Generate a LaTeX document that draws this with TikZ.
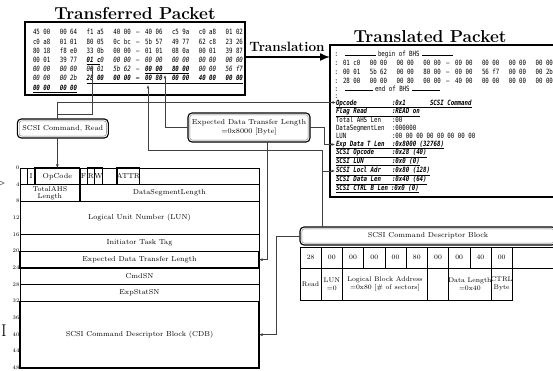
\documentclass[tikz,border=0pt]{standalone}
\usepackage{fontspec}
\newfontfamily\hexfont[FakeStretch=0.8]{DejaVu Sans Mono}
\usetikzlibrary{arrows.meta}
\newcommand\hn{\upshape\mdseries}
\newcommand\hi{\itshape\mdseries}
\newcommand\hb{\itshape\bfseries}
\newcommand\hexrow[4]{%
  \foreach \grs/\grt [count=\gi from 0] in {#4} {%
    \pgfmathsetmacro\gx{#2+26.8*\gi+(\gi>3 ? 5 : 0)}%
    \node[hex] (#1-\gi) at (\gx,#3) {\grs\grt};%
  }%
}
\newcommand\bcell[7]{%
  \node[cellbox,#6,minimum width={(#4)-(#2)},minimum height={(#5)-(#3)}] (#1) at ({((#2)+(#4))/2},{((#3)+(#5))/2}) {#7};%
}
\newcommand\dframe[1]{%
  \draw[line width=0.4pt,draw=black!55,rounded corners=2.5pt] ([xshift=1.9pt,yshift=-1.9pt]#1.north west) rectangle ([xshift=-1.9pt,yshift=1.9pt]#1.south east);%
}
\newcommand\tfield[5]{%
  \node[hex] (f-#1) at (336,#2) {#5#3};%
  \node[hex] (f-#1v) at (392,#2) {#5#4};%
}
\begin{document}
\begin{tikzpicture}[x=1pt,y=-1pt,
  hex/.style={font=\hexfont\fontsize{7.2}{8}\selectfont,inner sep=0pt,outer sep=0pt,anchor=west,text height=5.3pt,text depth=1.4pt},
  cellbox/.style={draw,line width=0.5pt,inner sep=0pt,outer sep=0pt,align=center,font=\fontsize{7.2}{7.6}\selectfont},
  thk/.style={line width=1.2pt},
  med/.style={line width=0.9pt},
  rbox/.style={draw,line width=1.1pt,rounded corners=4pt,inner sep=0pt,outer sep=0pt,align=center,font=\fontsize{7.2}{8.8}\selectfont},
  pkt/.style={draw,line width=1.7pt,inner sep=0pt,outer sep=0pt},
  conn/.style={draw=black!75,line width=0.5pt},
  toarr/.style={-{Latex[length=3.5pt,width=2.8pt]}},
  uline/.style={line width=0.55pt},
  num/.style={font=\fontsize{5.5}{6}\selectfont,inner sep=0pt,anchor=east},
  ttitle/.style={font=\fontsize{17.3}{20}\selectfont\bfseries,inner sep=0pt}
]
\useasboundingbox (0,0) rectangle (553,371);
\clip (0,0) rectangle (553,371);

% titles
\node[ttitle] (ttp) at (135,14) {Transferred Packet};
\node[ttitle] (ttl) at (430,36.5) {Translated Packet};

% packet boxes
\node[pkt,minimum width=220,minimum height=73] (tp) at (135,58.5) {};
\node[pkt,minimum width=240,minimum height=152] (tl) at (450,121) {};

% transferred packet hex
\hexrow{p1}{33}{33}{\hn/45 00,\hn/00 64,\hn/f1 a5,\hn/40 00,\hn/40 06,\hn/c5 9a,\hn/c0 a8,\hn/01 02}
\hexrow{p2}{33}{42.2}{\hn/c0 a8,\hn/01 01,\hn/80 05,\hn/0c bc,\hn/5b 57,\hn/49 77,\hn/62 c8,\hn/23 26}
\hexrow{p3}{33}{51.4}{\hn/80 18,\hn/f8 e0,\hn/33 0b,\hn/00 00,\hn/01 01,\hn/08 0a,\hn/00 01,\hn/39 87}
\hexrow{p4}{33}{60.6}{\hn/00 01,\hn/39 77,\hi/{\bfseries 01 c}0,\hi/00 00,\hi/00 00,\hi/00 00,\hi/00 00,\hi/00 00}
\hexrow{p5}{33}{69.8}{\hi/00 00,\hi/00 00,\hi/00 01,\hi/5b 62,\hb/00 00,\hb/80 00,\hi/00 00,\hi/56 f7}
\hexrow{p6}{33}{79}{\hi/00 00,\hi/00 2b,\hb/28 00,\hb/00 00,\hb/00 80,\hb/00 00,\hb/40 00,\hb/00 00}
\hexrow{p7}{33}{88.2}{\hb/00 00,\hb/00 00}
\node[hex,anchor=center] (p1-d) at (137.75,33) {\hn –};
\node[hex,anchor=center] (p2-d) at (137.75,42.2) {\hn –};
\node[hex,anchor=center] (p3-d) at (137.75,51.4) {\hn –};
\node[hex,anchor=center] (p4-d) at (137.75,60.6) {\hi –};
\node[hex,anchor=center] (p5-d) at (137.75,69.8) {\hi –};
\node[hex,anchor=center] (p6-d) at (137.75,79) {\hb –};
\draw[uline] ([yshift=-0.6pt]p4-2.south west) -- ++(13.8,0);
\draw[uline] ([yshift=-0.6pt]p5-4.south west) -- ([yshift=-0.6pt]p5-5.south east);
\draw[uline] ([yshift=-0.6pt]p6-2.south west) -- ([yshift=-0.6pt]p6-7.south east);
\draw[uline] ([yshift=-0.6pt]p7-0.south west) -- ([yshift=-0.6pt]p7-1.south east);

% translation arrow
\coordinate (ty) at (0,57);
\node[font=\fontsize{13.5}{15}\selectfont\bfseries,inner sep=0pt] (trl) at (287,47) {Translation};
\draw[line width=1.5pt,-{Latex[length=10pt,width=8pt]}] (tp.east |- ty) -- (tl.west |- ty);

% translated packet contents
\foreach \cy [count=\ci] in {55,64,73,82,90,97} \node[hex] (col\ci) at (334.5,\cy) {:};
\node[hex] (bgn) at (378,55) {begin of BHS};
\draw[uline] ([xshift=-2.5pt]bgn.west) -- ++(-31,0);
\draw[uline] ([xshift=2.5pt]bgn.east) -- ++(31,0);
\node[hex] (edn) at (375,90) {end of BHS};
\draw[uline] ([xshift=-2.5pt]edn.west) -- ++(-28,0);
\draw[uline] ([xshift=2.5pt]edn.east) -- ++(28,0);
\hexrow{q1}{343}{64}{\hn/01 c0,\hn/00 00,\hn/00 00,\hn/00 00,\hn/00 00,\hn/00 00,\hn/00 00,\hn/00 00}
\hexrow{q2}{343}{73}{\hn/00 01,\hn/5b 62,\hn/00 00,\hn/80 00,\hn/00 00,\hn/56 f7,\hn/00 00,\hn/00 2b}
\hexrow{q3}{343}{82}{\hn/28 00,\hn/00 00,\hn/00 80,\hn/00 00,\hn/40 00,\hn/00 00,\hn/00 00,\hn/00 00}
\node[hex,anchor=center] (q1-d) at (447.75,64) {–};
\node[hex,anchor=center] (q2-d) at (447.75,73) {–};
\node[hex,anchor=center] (q3-d) at (447.75,82) {–};

\tfield{opc}{103.5}{Opcode}{:0x1}{\hb}
\node[hex] (f-opcx) at (430,103.5) {\hb SCSI Command};
\tfield{flg}{112}{Flag Read}{:READ on}{\hb}
\tfield{ahs}{120.5}{Total AHS Len}{:00}{\hn}
\tfield{dsl}{128.5}{DataSegmentLen}{:000000}{\hn}
\tfield{lun}{136.5}{LUN}{:00 00 00 00 00 00 00 00}{\hn}
\tfield{exp}{144.5}{Exp Data T Len}{:0x8000 (32768)}{\hb}
\tfield{sop}{153}{SCSI Opcode}{:0x28 (40)}{\hb}
\tfield{slu}{161.5}{SCSI LUN}{:0x0 (0)}{\hb}
\tfield{lba}{171}{SCSI Locl Adr}{:0x80 (128)}{\hb}
\tfield{sdl}{180}{SCSI Data Len}{:0x40 (64)}{\hb}
\node[hex] (f-ctl) at (336,188.5) {\hb SCSI CTRL B Len};
\node[hex] (f-ctlv) at (391,188.5) {\hb :0x0 (0)};
\draw[uline] ([yshift=-0.6pt]f-opc.south west) -- ([yshift=-0.6pt]f-opcx.south east);
\foreach \fn in {flg,exp,sop,slu,lba,sdl,ctl}
  \draw[uline] ([yshift=-0.6pt]f-\fn.south west) -- ([yshift=-0.6pt]f-\fn v.south east);

% fragments at left edge
\node[inner sep=0pt,font=\fontsize{13}{13}\selectfont] (fr1) at (1,183) {$>$};
\node[inner sep=0pt,font=\fontsize{17}{17}\selectfont] (fr2) at (4,331) {I};

% BHS table
\foreach \b in {0,4,...,48} \node[num] (n\b) at (19.6,{168+4.1667*\b-0.3}) {\b};
\bcell{b-r0}{20}{168}{27.47}{184.67}{}{}
\bcell{b-i}{27.47}{168}{34.94}{184.67}{}{I}
\bcell{b-f}{79.75}{168}{87.22}{184.67}{}{F}
\bcell{b-r1}{102.16}{168}{117.1}{184.67}{}{}
\bcell{b-r2}{139.5}{168}{259}{184.67}{}{}
\bcell{b-dsl}{79.75}{184.67}{259}{201.33}{}{DataSegmentLength}
\bcell{b-itt}{20}{234.67}{259}{251.33}{}{Initiator Task Tag}
\bcell{b-cmd}{20}{268}{259}{284.67}{}{CmdSN}
\bcell{b-esn}{20}{284.67}{259}{301.33}{}{ExpStatSN}
\bcell{b-ahs}{20}{184.67}{79.75}{201.33}{med,font=\fontsize{7}{7.4}\selectfont}{TotalAHS\\Length}
\bcell{b-lun}{20}{201.33}{259}{234.67}{med}{Logical Unit Number (LUN)}
\bcell{b-opc}{34.94}{168}{79.75}{184.67}{thk}{OpCode}
\bcell{b-r}{87.22}{168}{94.69}{184.67}{thk}{R}
\bcell{b-w}{94.69}{168}{102.16}{184.67}{thk}{W}
\bcell{b-attr}{117.1}{168}{139.5}{184.67}{thk}{ATTR}
\bcell{b-exp}{20}{251.33}{259}{268}{thk}{Expected Data Transfer Length}
\bcell{b-cdb}{20}{301.33}{259}{368}{thk}{SCSI Command Descriptor Block (CDB)}

% rounded boxes
\node[rbox,minimum width=91,minimum height=19] (cmd) at (62.8,128.5) {SCSI Command, Read};
\dframe{cmd}
\node[rbox,minimum width=122,minimum height=29] (ebox) at (249,127.5) {Expected Data Transfer Length\\=0x8000 [Byte]};
\dframe{ebox}
\node[rbox,minimum width=256,minimum height=18] (cbox) at (428,236) {SCSI Command Descriptor Block};
\dframe{cbox}

% CDB table
\foreach \v [count=\k from 0] in {28,00,00,00,00,80,00,00,40,00} {
  \pgfmathsetmacro\xa{300+21.23*\k}
  \pgfmathsetmacro\xb{\xa+21.23}
  \bcell{c1-\k}{\xa}{247}{\xb}{268}{font=\fontsize{6.8}{7.4}\selectfont}{\v}
}
\draw[line width=0.5pt] (c1-9.north east) -- ++(60,0);
\draw[line width=0.5pt] (c1-9.south east) -- ++(60,0);
\bcell{c2-0}{300}{268}{321.23}{300}{font=\fontsize{6.8}{8}\selectfont}{Read}
\bcell{c2-1}{321.23}{268}{342.46}{300}{font=\fontsize{6.8}{8}\selectfont}{LUN\\=0}
\bcell{c2-2}{342.46}{268}{427.38}{300}{font=\fontsize{6.8}{8}\selectfont}{Logical Block Address\\=0x80 [\# of sectors]}
\bcell{c2-3}{427.38}{268}{448.61}{300}{}{}
\bcell{c2-4}{448.61}{268}{491.07}{300}{font=\fontsize{6.8}{8}\selectfont}{Data Length\\=0x40}
\bcell{c2-5}{491.07}{268}{512.3}{300}{font=\fontsize{6.8}{8}\selectfont}{CTRL\\Byte}

% connectors
\coordinate (opcT) at (92,66);
\coordinate (lenT) at (165,75);
\coordinate (lbaT) at (148,85);
\coordinate (j1) at (57.35,102.5);
\coordinate (j2) at (324,0);
\coordinate (j3) at (322,150);
\coordinate (j4) at (276,0);
\draw[conn,toarr] (cmd.north -| j1) -- ++(0,-5) -| (opcT);
\draw[conn,toarr] (cmd.north -| j1) -- (j1) -- (j1 -| f-opc.west);
\draw[conn,toarr] (cmd.south -| b-opc.north) -- (b-opc.north);
\draw[conn,toarr] (ebox.west) -| (lenT);
\draw[conn,toarr] (ebox.east) -- (ebox.east -| j2) |- ([xshift=-1pt]f-exp.west);
\draw[conn,toarr] ([xshift=18pt]ebox.south) |- (b-exp.east);
\draw[conn,toarr] (cbox.north -| j3) -- (j3) -| (lbaT);
\draw[conn,toarr] (j3 |- f-lba.west) -- ([xshift=-1pt]f-lba.west);
\draw[conn,toarr] (cbox.west) -- (cbox.west -| j4) |- (b-cdb.east);
\end{tikzpicture}
\end{document}
